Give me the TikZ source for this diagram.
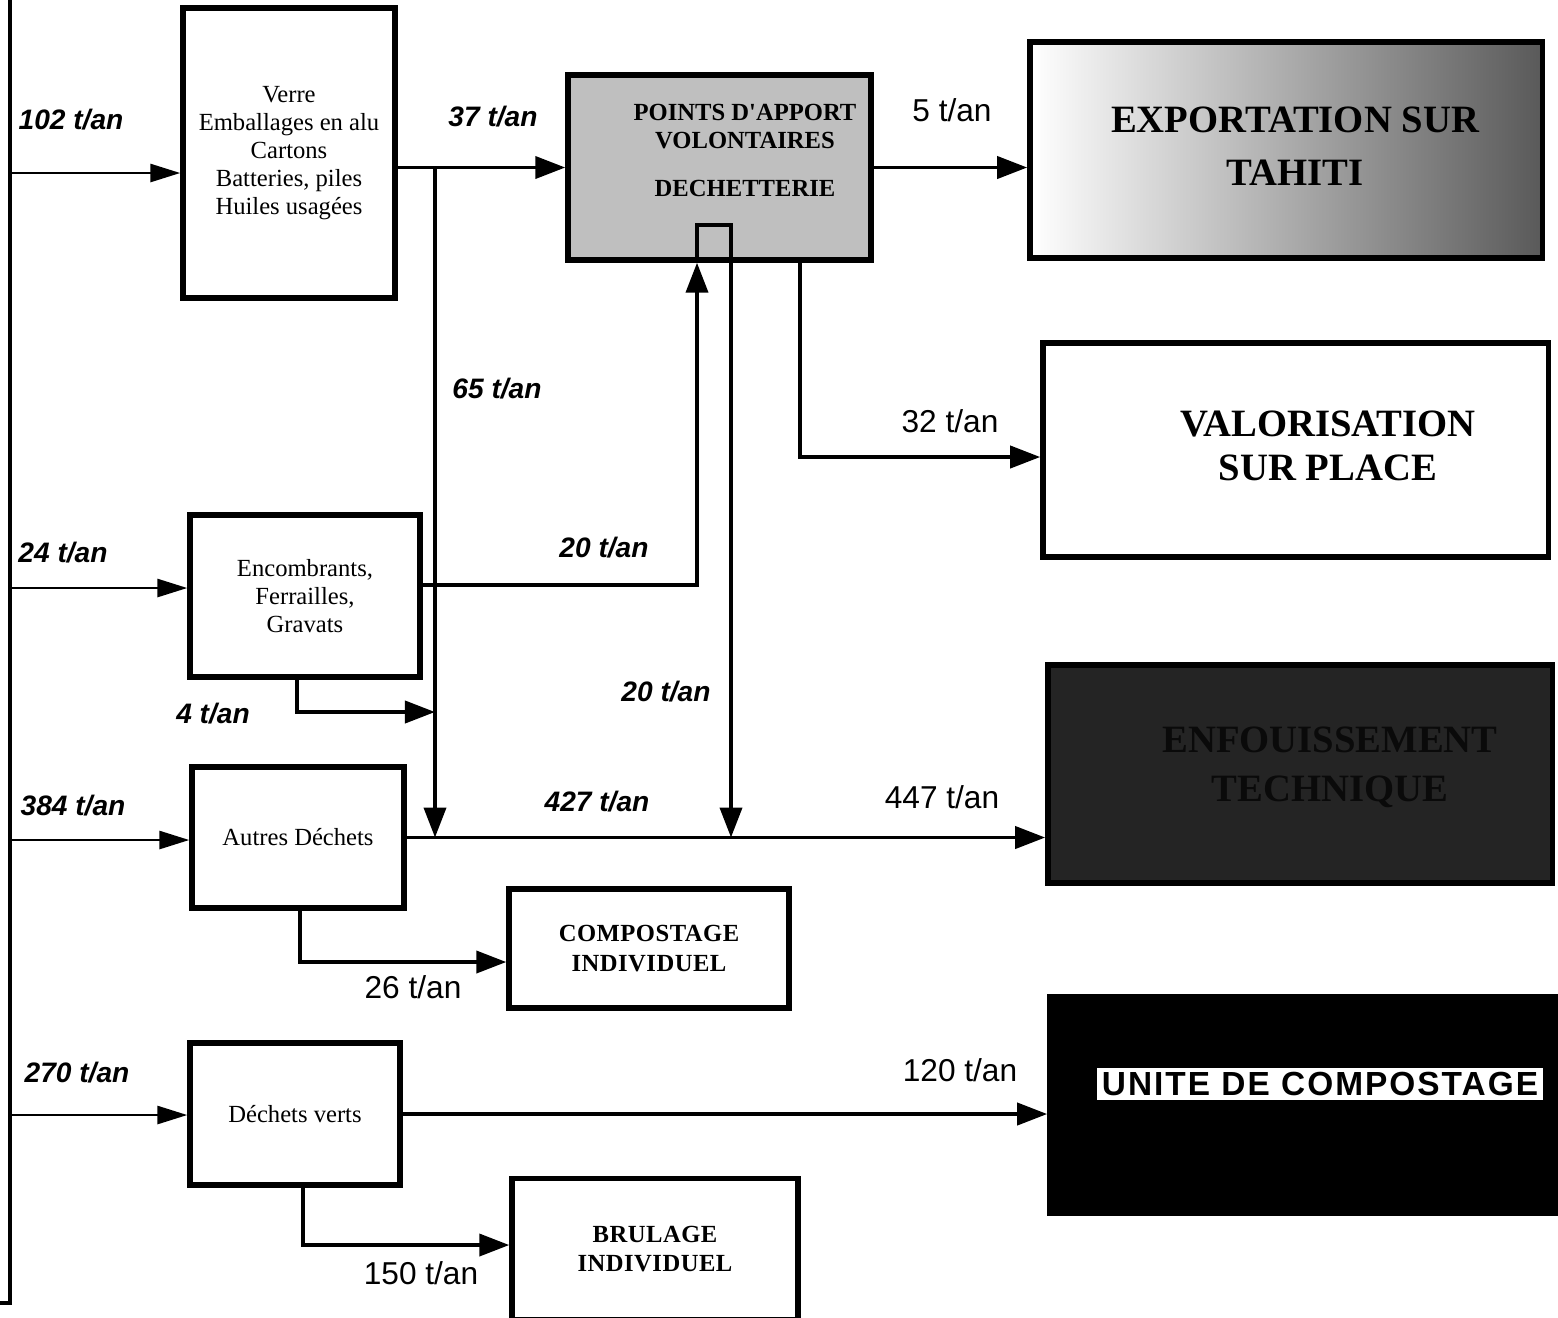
\documentclass[tikz,border=0pt]{standalone}
\usepackage{fontspec}
\setmainfont{Liberation Serif}
\newfontfamily\arialf{Liberation Sans}
\usetikzlibrary{arrows.meta,calc}

\begin{document}
\begin{tikzpicture}[x=0.01cm,y=-0.01cm,>={Triangle[length=3mm,width=2.2mm]},
    boite/.style={draw,line width=1.5pt,align=center,inner sep=0pt,font=\fontsize{7}{8}\selectfont},
    titre/.style={align=center,font=\fontsize{11}{12.5}\selectfont\bfseries},
    petit/.style={font=\fontsize{7}{8.5}\selectfont\bfseries\addfontfeature{LetterSpace=2}},
    flux/.style={->,line width=1.1pt},
    entree/.style={->,line width=0.8pt,>={Triangle[length=3mm,width=1.8mm]}},
    tan/.style={font=\arialf\fontsize{8}{9}\selectfont\bfseries\itshape},
    manus/.style={font=\arialf\fontsize{9}{10}\selectfont}]
  \useasboundingbox (0,0) rectangle (1558,1317);
  % collecteur a gauche
  \coordinate (busH) at (10,0);
  \coordinate (busB) at (10,1303);
  \draw[line width=1.4pt] (busH) -- (busB) -- ++(-10,0);
  % boites de tri
  \node[boite,minimum width=2.12cm,minimum height=2.90cm] (verre) at (289,153)
    {Verre\\Emballages en alu\\Cartons\\Batteries, piles\\Huiles usagées};
  \node[boite,minimum width=2.30cm,minimum height=1.62cm] (encomb) at (305,596)
    {Encombrants,\\Ferrailles,\\Gravats};
  \node[boite,minimum width=2.12cm,minimum height=1.41cm] (autres) at (298,837.5) {Autres Déchets};
  \node[boite,minimum width=2.10cm,minimum height=1.42cm] (verts) at (295,1114) {Déchets verts};
  % destinations
  \node[boite,fill=black!25,minimum width=3.03cm,minimum height=1.85cm] (pav) at (719.5,167.5) {};
  \node[align=center,font=\fontsize{7}{8}\selectfont\bfseries] (pavt) at (745,150)
    {POINTS D\textquotesingle APPORT\\VOLONTAIRES\\[0.8em]DECHETTERIE};
  \node[boite,left color=white,right color=black!65,minimum width=5.12cm,minimum height=2.16cm] (export) at (1286,150) {};
  \node[titre,font=\fontsize{11}{15}\selectfont\bfseries] (exportt) at (1295,146) {EXPORTATION SUR\\TAHITI};
  \node[boite,minimum width=5.05cm,minimum height=2.14cm] (valor) at (1295.5,450) {};
  \node[titre] (valort) at (1328,446) {VALORISATION\\SUR PLACE};
  \node[boite,fill=black!86,minimum width=5.04cm,minimum height=2.18cm] (enfou) at (1300,774) {};
  \node[titre,text=black!96,font=\fontsize{11}{14}\selectfont\bfseries] (enfout) at (1330,767) {ENFOUISSEMENT\\TECHNIQUE};
  \node[boite,fill=black,minimum width=5.05cm,minimum height=2.16cm] (unite) at (1302.5,1105) {};
  \node[fill=white,minimum width=4.45cm,minimum height=0.32cm,inner sep=0pt,
    font=\arialf\fontsize{9.5}{10}\selectfont\bfseries\addfontfeature{LetterSpace=6}] (unitet) at (1320,1084) {UNITE DE COMPOSTAGE};
  \node[boite,petit,minimum width=2.80cm,minimum height=1.19cm] (compo) at (649,948.5) {COMPOSTAGE\\INDIVIDUEL};
  \node[boite,petit,minimum width=2.86cm,minimum height=1.41cm] (brul) at (655,1249) {BRULAGE\\INDIVIDUEL};
  % entrees
  \coordinate (in1) at (10,173);
  \coordinate (in2) at (10,588);
  \coordinate (in3) at (10,840);
  \coordinate (in4) at (10,1115);
  \draw[entree] (in1) -- (in1 -| verre.west);
  \draw[entree] (in2) -- (in2 -| encomb.west);
  \draw[entree] (in3) -- (in3 -| autres.west);
  \draw[entree] (in4) -- (in4 -| verts.west);
  % flux
  \coordinate (j1) at (435,167.5);
  \coordinate (j2) at (435,837.5);
  \coordinate (j4) at (435,712);
  \coordinate (e2) at (697,585);
  \coordinate (boucle) at (731,225);
  \coordinate (v1) at (800,457);
  \coordinate (c1) at (300,962);
  \coordinate (c2) at (303,1245);
  \draw[flux] (verre.east |- pav.west) -- (pav.west);
  \draw[flux] (j1) -- (j2);
  \draw[flux] (encomb.east |- e2) -- (e2) -- (e2 |- pav.south);
  \draw[flux] ([xshift=-0.08cm]encomb.south) |- (j4);
  \draw[flux] (e2 |- pav.south) |- (boucle) -- (boucle |- j2);
  \draw[flux] (autres.east) -- (autres.east -| enfou.west);
  \draw[flux] (pav.east) -- (pav.east -| export.west);
  \draw[flux] (pav.south -| v1) -- (v1) -- (v1 -| valor.west);
  \draw[flux] (autres.south -| c1) -- (c1) -- (c1 -| compo.west);
  \draw[flux] (verts.east) -- (verts.east -| unite.west);
  \draw[flux] (verts.south -| c2) -- (c2) -- (c2 -| brul.west);
  % tonnages
  \node[tan] (q102) at (71,120) {102 t/an};
  \node[tan] (q24) at (63,553) {24 t/an};
  \node[tan] (q384) at (73,806) {384 t/an};
  \node[tan] (q270) at (77,1073) {270 t/an};
  \node[tan] (q37) at (493,117) {37 t/an};
  \node[tan] (q65) at (497,389) {65 t/an};
  \node[tan] (q20a) at (604,548) {20 t/an};
  \node[tan] (q4) at (213,714) {4 t/an};
  \node[tan] (q20b) at (666,692) {20 t/an};
  \node[tan] (q427) at (597,802) {427 t/an};
  \node[manus] (q5) at (952,110) {5 t/an};
  \node[manus] (q32) at (950,421) {32 t/an};
  \node[manus] (q447) at (942,797) {447 t/an};
  \node[manus] (q120) at (960,1070) {120 t/an};
  \node[manus] (q26) at (413,987) {26 t/an};
  \node[manus] (q150) at (421,1273) {150 t/an};
\end{tikzpicture}
\end{document}
